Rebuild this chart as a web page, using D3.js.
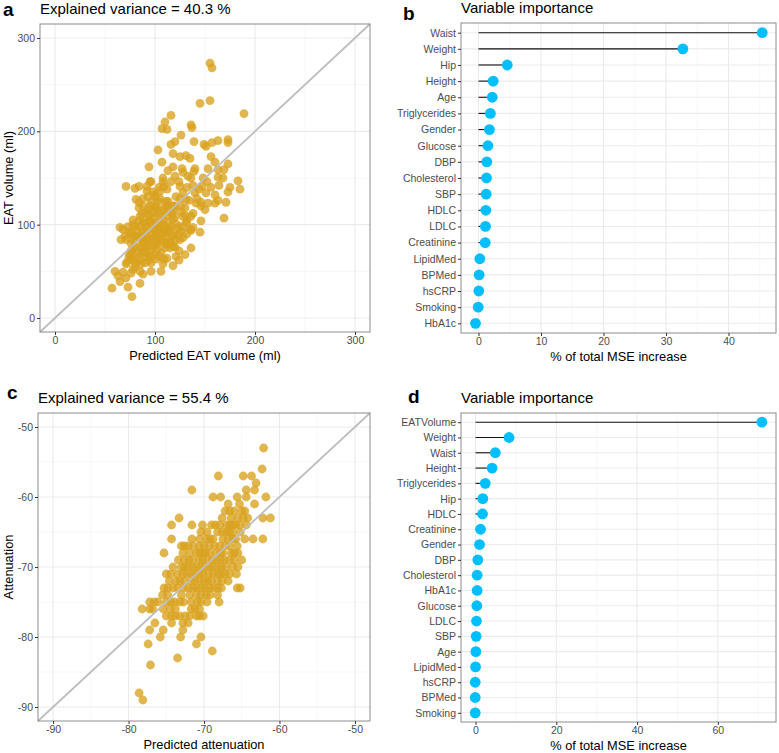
<!DOCTYPE html>
<html>
<head>
<meta charset="utf-8">
<script src="https://cdn.jsdelivr.net/npm/d3@7"></script>
<style>
  body { margin: 0; background: #fff; }
  text { font-family: "Liberation Sans", Arial, sans-serif; }
</style>
</head>
<body>
<script>
// panel a: predicted vs observed EAT volume (ml)
let eatPred = [155,157,155,145,189,116,110,107,112,136,137,126,139,103,107,94,116,120,118,125,131,135,149,151,157,163,173,173,156,160,153,163,169,173,163,183,185,175,173,171,169,163,160,153,146,146,145,138,139,133,127,118,113,108,109,105,100,95,92,84,80,71,84,81,93,103,111,121,128,118,119,128,136,141,126,131,138,135,136,130,125,118,111,121,106,96,85,76,68,60,57,65,73,77,85,71,76,65,68,66,71,76,85,91,99,105,111,115,105,99,91,85,78,88,95,101,109,115,121,126,91,98,105,95,88,83,78,88,95,102,111,90,96,81,78,88,71,63,101,108,118,131,131,125,140,151,147,113,108,101,95,88,85,78,73,91,101,
  82,86,90,93,97,100,104,108,112,96,99,103,107,110,114,117,88,92,95,99,85,90,106,110,115,119,123,120,125,113,105,98,93,80,76,79,84,87,74,80,
  72,75,78,82,86,90,94,98,102,106,112,116,120,124,128,132,70,74,78,82,86,90,94,98,102,106,110,114,118,122,126,130,134,138,142,146,150,
  96,100,104,108,112,116,120,124,128,132,136,140,144,148,152,156,160,164,168,84,88,92,96,100,104,108,112,116,120,124,128,132,136,88,84,80,76,92,96,100,104,108,112,118,124];
let eatObs = [273,268,233,230,219,217,210,203,202,207,204,196,189,180,167,162,186,189,176,173,174,171,186,184,188,190,191,188,173,167,160,159,159,165,151,147,138,140,135,124,107,126,123,123,124,104,92,142,157,152,160,162,158,150,141,136,130,146,141,141,139,141,124,127,116,125,125,130,134,120,116,109,109,123,120,102,97,95,75,68,84,77,79,66,50,50,50,48,49,50,32,39,33,23,37,58,63,97,95,84,84,91,98,91,95,95,91,95,84,77,77,77,74,70,66,63,63,75,84,93,113,113,109,105,102,88,84,84,84,79,81,59,59,59,52,47,43,45,88,90,88,109,127,141,134,134,141,120,116,120,120,120,109,105,98,97,102,
  70,75,80,85,90,95,100,105,110,72,80,86,92,98,103,112,92,98,104,108,62,66,70,75,82,90,97,120,128,125,128,135,130,98,80,88,104,112,66,55,
  60,68,62,66,58,70,62,68,74,82,86,80,76,72,86,90,88,92,100,94,88,104,110,100,116,112,120,114,106,100,114,118,126,112,128,120,116,
  124,132,140,146,138,146,152,146,156,140,150,160,138,150,146,140,132,142,150,118,128,136,146,118,96,100,94,98,108,90,98,104,94,82,86,76,72,76,84,88,66,58,64,56,62];
let eatTicks = [0, 100, 200, 300];

// panel c: predicted vs observed attenuation
let attPred = [-62.1,-62.3,-64.8,-63.7,-68.1,-71.6,-63.1,-64.4,-63.3,-68.8,-67.8,-65.6,-64.4,-61.8,-63.3,-66.8,-65.3,-67.6,-66.6,-66.0,-65.0,-64.2,-62.2,-61.2,-73.3,-74.3,-71.6,-70.2,-67.9,-67.0,-66.2,-65.3,-64.4,-70.4,-68.2,-67.0,-66.2,-74.3,-70.6,-69.7,-68.8,-67.5,-66.2,-64.6,-63.5,-62.2,-73.0,-72.1,-70.6,-69.3,-67.9,-66.6,-65.6,-75.3,-71.9,-71.0,-70.1,-69.3,-68.4,-67.5,-66.4,-65.5,-72.6,-71.5,-70.6,-69.5,-68.4,-67.3,-66.0,-65.0,-74.1,-73.0,-72.1,-71.0,-69.9,-68.8,-67.7,-65.5,-75.0,-73.5,-72.3,-71.2,-70.1,-68.8,-67.7,-66.6,-65.7,-73.2,-71.7,-70.6,-69.5,-68.2,-66.8,-75.3,-74.8,-73.5,-72.1,-71.0,-69.9,-68.8,-67.7,-65.6,-65.2,-74.8,-71.9,-71.0,-69.7,-68.2,-77.2,-76.1,-75.0,-73.9,-73.2,-71.7,-70.4,-68.0,-78.2,-77.2,-75.4,-74.5,-71.7,-70.6,-75.0,-74.3,-73.2,-71.9,-71.0,-70.1,-76.5,-74.3,-72.8,-72.1,-75.4,-77.2,-72.8,-75.8,-73.1,-70.4,-77.4,-71.0,-68.9,-73.5,-77.1,-78.6,-78.1,
  -67.2,-64.6,-66.4,-65.5,-64.8,-69.0,-68.5,-66.6,-65.8,-69.6,-67.6,-66.6,-65.2,-71.6,-69.2,-66.8,-65.8,-72.6,-71.4,-70.0,-68.6,-67.2,-72.8,-70.6,-69.8,-67.8,-66.0,-73.4,-72.0,-70.2,-68.9,-67.8,-66.6,-72.6,-71.5,-70.4,-69.3,-68.2,-67.1,-66.2,-74.4,-72.8,-71.7,-70.6,-69.4,-68.2,-67.2,-74.6,-73.7,-72.6,-71.2,-70.0,-69.0,-67.6,-74.1,-72.7,-71.5,-70.4,-69.3,-68.2,-75.5,-73.0,-70.4,-69.2,-76.6,-74.4,-72.7,-70.9,-69.6,-76.8,-73.8,-71.2,-73.8,-72.5,-70.6];
let attObs = [-53,-56,-57,-57,-57,-59,-58,-59,-59,-60,-60,-60,-60,-60,-61,-61,-61,-63,-62,-62,-62,-63,-63,-63,-63,-64,-64,-64,-64,-64,-64,-64,-64,-65,-65,-65,-65,-66,-66,-66,-66,-66,-66,-66,-66,-66,-67,-67,-67,-67,-67,-67,-67,-68,-68,-68,-68,-68,-68,-68,-68,-68,-69,-69,-69,-69,-69,-69,-69,-69,-70,-70,-70,-70,-70,-70,-70,-70,-71,-71,-71,-71,-71,-71,-71,-71,-71,-72,-72,-72,-72,-72,-72,-73,-73,-73,-73,-73,-73,-73,-73,-73,-73,-74,-74,-74,-74,-74,-75,-75,-75,-75,-75,-75,-75,-75,-76,-76,-76,-76,-76,-76,-77,-77,-77,-77,-77,-77,-78,-78,-78,-78,-79,-79,-79,-80,-80,-80,-81,-81,-82,-83,-84,-88,-89,
  -62,-62,-63,-63,-63,-64,-64,-64,-64,-65,-65,-65,-65,-66,-66,-66,-66,-67,-67,-67,-67,-67,-68,-68,-68,-68,-68,-69,-69,-69,-69,-69,-69,-70,-70,-70,-70,-70,-70,-70,-71,-71,-71,-71,-71,-71,-71,-72,-72,-72,-72,-72,-72,-72,-73,-73,-73,-73,-73,-73,-74,-74,-74,-74,-75,-75,-75,-75,-75,-76,-76,-76,-77,-77,-77];
let attTicks = [-90, -80, -70, -60, -50];

// panel b: variable importance for EAT volume
let varsB = ["Waist","Weight","Hip","Height","Age","Triglycerides","Gender","Glucose","DBP","Cholesterol","SBP","HDLC","LDLC","Creatinine","LipidMed","BPMed","hsCRP","Smoking","HbA1c"];
let impB = [45.4,32.7,4.6,2.35,2.2,1.9,1.75,1.5,1.33,1.28,1.23,1.17,1.12,1.07,0.21,0.1,0.05,-0.05,-0.48];
let ticksB = [0, 10, 20, 30, 40];

// panel d: variable importance for attenuation
let varsD = ["EATVolume","Weight","Waist","Height","Triglycerides","Hip","HDLC","Creatinine","Gender","DBP","Cholesterol","HbA1c","Glucose","LDLC","SBP","Age","LipidMed","hsCRP","BPMed","Smoking"];
let impD = [70.9,8.3,4.9,4.1,2.4,1.8,1.73,1.24,0.99,0.57,0.4,0.4,0.32,0.24,0.16,0.07,0.0,-0.08,-0.08,-0.08];
let ticksD = [0, 20, 40, 60];

let svg = d3.select('body')
      .append('svg')
      .attr('width', 779)
      .attr('height', 753);

let tickCol = '#4d4d4d';
let plain = d => String(d);   // ggplot prints a plain hyphen for negatives

function frame(g, w, h) {
  g.append('rect')
    .attr('width', w).attr('height', h)
    .attr('fill', 'none')
    .attr('stroke', '#8c8c8c')
    .attr('stroke-width', 1);
}

function styleAxis(a) {
  a.select('.domain').remove();
  a.selectAll('line').attr('stroke', '#333');
  a.selectAll('text').attr('fill', tickCol).style('font-size', '10.5px')
    .style('font-family', '"Liberation Sans", Arial, sans-serif');
}

function scatter(o) {
  let g = svg.append('g').attr('transform', `translate(${o.left},${o.top})`);
  let x = d3.scaleLinear().domain(o.dom).range([0, o.w]);
  let y = d3.scaleLinear().domain(o.dom).range([o.h, 0]);
  let minor = d3.range(o.ticks.length - 1).map(i => (o.ticks[i] + o.ticks[i + 1]) / 2);

  g.selectAll('.mx').data(minor).join('line')
    .attr('x1', d => x(d)).attr('x2', d => x(d)).attr('y1', 0).attr('y2', o.h)
    .attr('stroke', '#f2f2f2').attr('stroke-width', 0.6);
  g.selectAll('.my').data(minor).join('line')
    .attr('y1', d => y(d)).attr('y2', d => y(d)).attr('x1', 0).attr('x2', o.w)
    .attr('stroke', '#f2f2f2').attr('stroke-width', 0.6);
  g.selectAll('.gx').data(o.ticks).join('line')
    .attr('x1', d => x(d)).attr('x2', d => x(d)).attr('y1', 0).attr('y2', o.h)
    .attr('stroke', '#ebebeb').attr('stroke-width', 1.1);
  g.selectAll('.gy').data(o.ticks).join('line')
    .attr('y1', d => y(d)).attr('y2', d => y(d)).attr('x1', 0).attr('x2', o.w)
    .attr('stroke', '#ebebeb').attr('stroke-width', 1.1);

  let pts = o.px.map((v, i) => ({x: v, y: o.py[i]}));
  g.selectAll('.pt').data(pts).join('circle')
    .attr('cx', d => x(d.x)).attr('cy', d => y(d.y)).attr('r', 4.4)
    .attr('fill', '#d8a21e').attr('fill-opacity', 0.78);

  g.append('line')
    .attr('x1', x(o.dom[0])).attr('y1', y(o.dom[0]))
    .attr('x2', x(o.dom[1])).attr('y2', y(o.dom[1]))
    .attr('stroke', '#bebebe').attr('stroke-width', 1.8);

  frame(g, o.w, o.h);

  styleAxis(g.append('g').attr('transform', `translate(0,${o.h})`)
    .call(d3.axisBottom(x).tickValues(o.ticks).tickFormat(plain).tickSize(3).tickPadding(2)));
  styleAxis(g.append('g')
    .call(d3.axisLeft(y).tickValues(o.ticks).tickFormat(plain).tickSize(3).tickPadding(2)));

  g.append('text').attr('x', o.w / 2).attr('y', o.h + 28)
    .attr('text-anchor', 'middle').style('font-size', '12.8px').text(o.xlab);
  g.append('text')
    .attr('transform', `translate(${-o.left + 13},${o.h / 2}) rotate(-90)`)
    .attr('text-anchor', 'middle').style('font-size', '12.8px').text(o.ylab);
  g.append('text').attr('x', 0).attr('y', o.titleY)
    .style('font-size', '15px').text(o.title);
  g.append('text').attr('x', o.letterX).attr('y', o.letterY)
    .style('font-size', '19px').style('font-weight', 'bold').text(o.letter);
}

function lollipop(o) {
  let g = svg.append('g').attr('transform', `translate(${o.left},${o.top})`);
  let x = d3.scaleLinear().domain(o.dom).range([0, o.w]);
  let y = d3.scalePoint().domain(o.vars).range([0, o.h]).padding(0.6);
  let minor = o.ticks.map(t => t + (o.ticks[1] - o.ticks[0]) / 2).filter(t => x(t) < o.w);

  g.selectAll('.mx').data(minor).join('line')
    .attr('x1', d => x(d)).attr('x2', d => x(d)).attr('y1', 0).attr('y2', o.h)
    .attr('stroke', '#f2f2f2').attr('stroke-width', 0.6);
  g.selectAll('.gx').data(o.ticks).join('line')
    .attr('x1', d => x(d)).attr('x2', d => x(d)).attr('y1', 0).attr('y2', o.h)
    .attr('stroke', '#ebebeb').attr('stroke-width', 1.1);
  g.selectAll('.gy').data(o.vars).join('line')
    .attr('y1', d => y(d)).attr('y2', d => y(d)).attr('x1', 0).attr('x2', o.w)
    .attr('stroke', '#ebebeb').attr('stroke-width', 1.1);

  let rows = o.vars.map((v, i) => ({v: v, val: o.vals[i]}));
  g.selectAll('.seg').data(rows).join('line')
    .attr('x1', x(0)).attr('x2', d => x(d.val))
    .attr('y1', d => y(d.v)).attr('y2', d => y(d.v))
    .attr('stroke', '#111').attr('stroke-width', 1.1);
  g.selectAll('.dot').data(rows).join('circle')
    .attr('cx', d => x(d.val)).attr('cy', d => y(d.v)).attr('r', 5.4)
    .attr('fill', '#00bfff');

  frame(g, o.w, o.h);

  styleAxis(g.append('g').attr('transform', `translate(0,${o.h})`)
    .call(d3.axisBottom(x).tickValues(o.ticks).tickFormat(plain).tickSize(3).tickPadding(2)));
  styleAxis(g.append('g')
    .call(d3.axisLeft(y).tickSize(3).tickPadding(2)));

  g.append('text').attr('x', o.w / 2).attr('y', o.h + 28)
    .attr('text-anchor', 'middle').style('font-size', '12.8px').text('% of total MSE increase');
  g.append('text').attr('x', 0).attr('y', o.titleY)
    .style('font-size', '15px').text('Variable importance');
  g.append('text').attr('x', o.letterX).attr('y', o.letterY)
    .style('font-size', '19px').style('font-weight', 'bold').text(o.letter);
}

scatter({left: 40, top: 24, w: 330, h: 308, dom: [-15, 315], ticks: eatTicks,
  px: eatPred, py: eatObs, xlab: 'Predicted EAT volume (ml)', ylab: 'EAT volume (ml)',
  title: 'Explained variance = 40.3 %', titleY: -10, letter: 'a', letterX: -37, letterY: -8});

scatter({left: 38, top: 413, w: 332, h: 308, dom: [-92, -48], ticks: attTicks,
  px: attPred, py: attObs, xlab: 'Predicted attenuation', ylab: 'Attenuation',
  title: 'Explained variance = 55.4 %', titleY: -10, letter: 'c', letterX: -31, letterY: -14});

lollipop({left: 461, top: 23, w: 315, h: 310, dom: [-2.8, 47.6], ticks: ticksB,
  vars: varsB, vals: impB, titleY: -10, letter: 'b', letterX: -58, letterY: -3});

lollipop({left: 461, top: 413, w: 315, h: 309, dom: [-3.6, 74.4], ticks: ticksD,
  vars: varsD, vals: impD, titleY: -10, letter: 'd', letterX: -53, letterY: -10});
</script>
</body>
</html>
